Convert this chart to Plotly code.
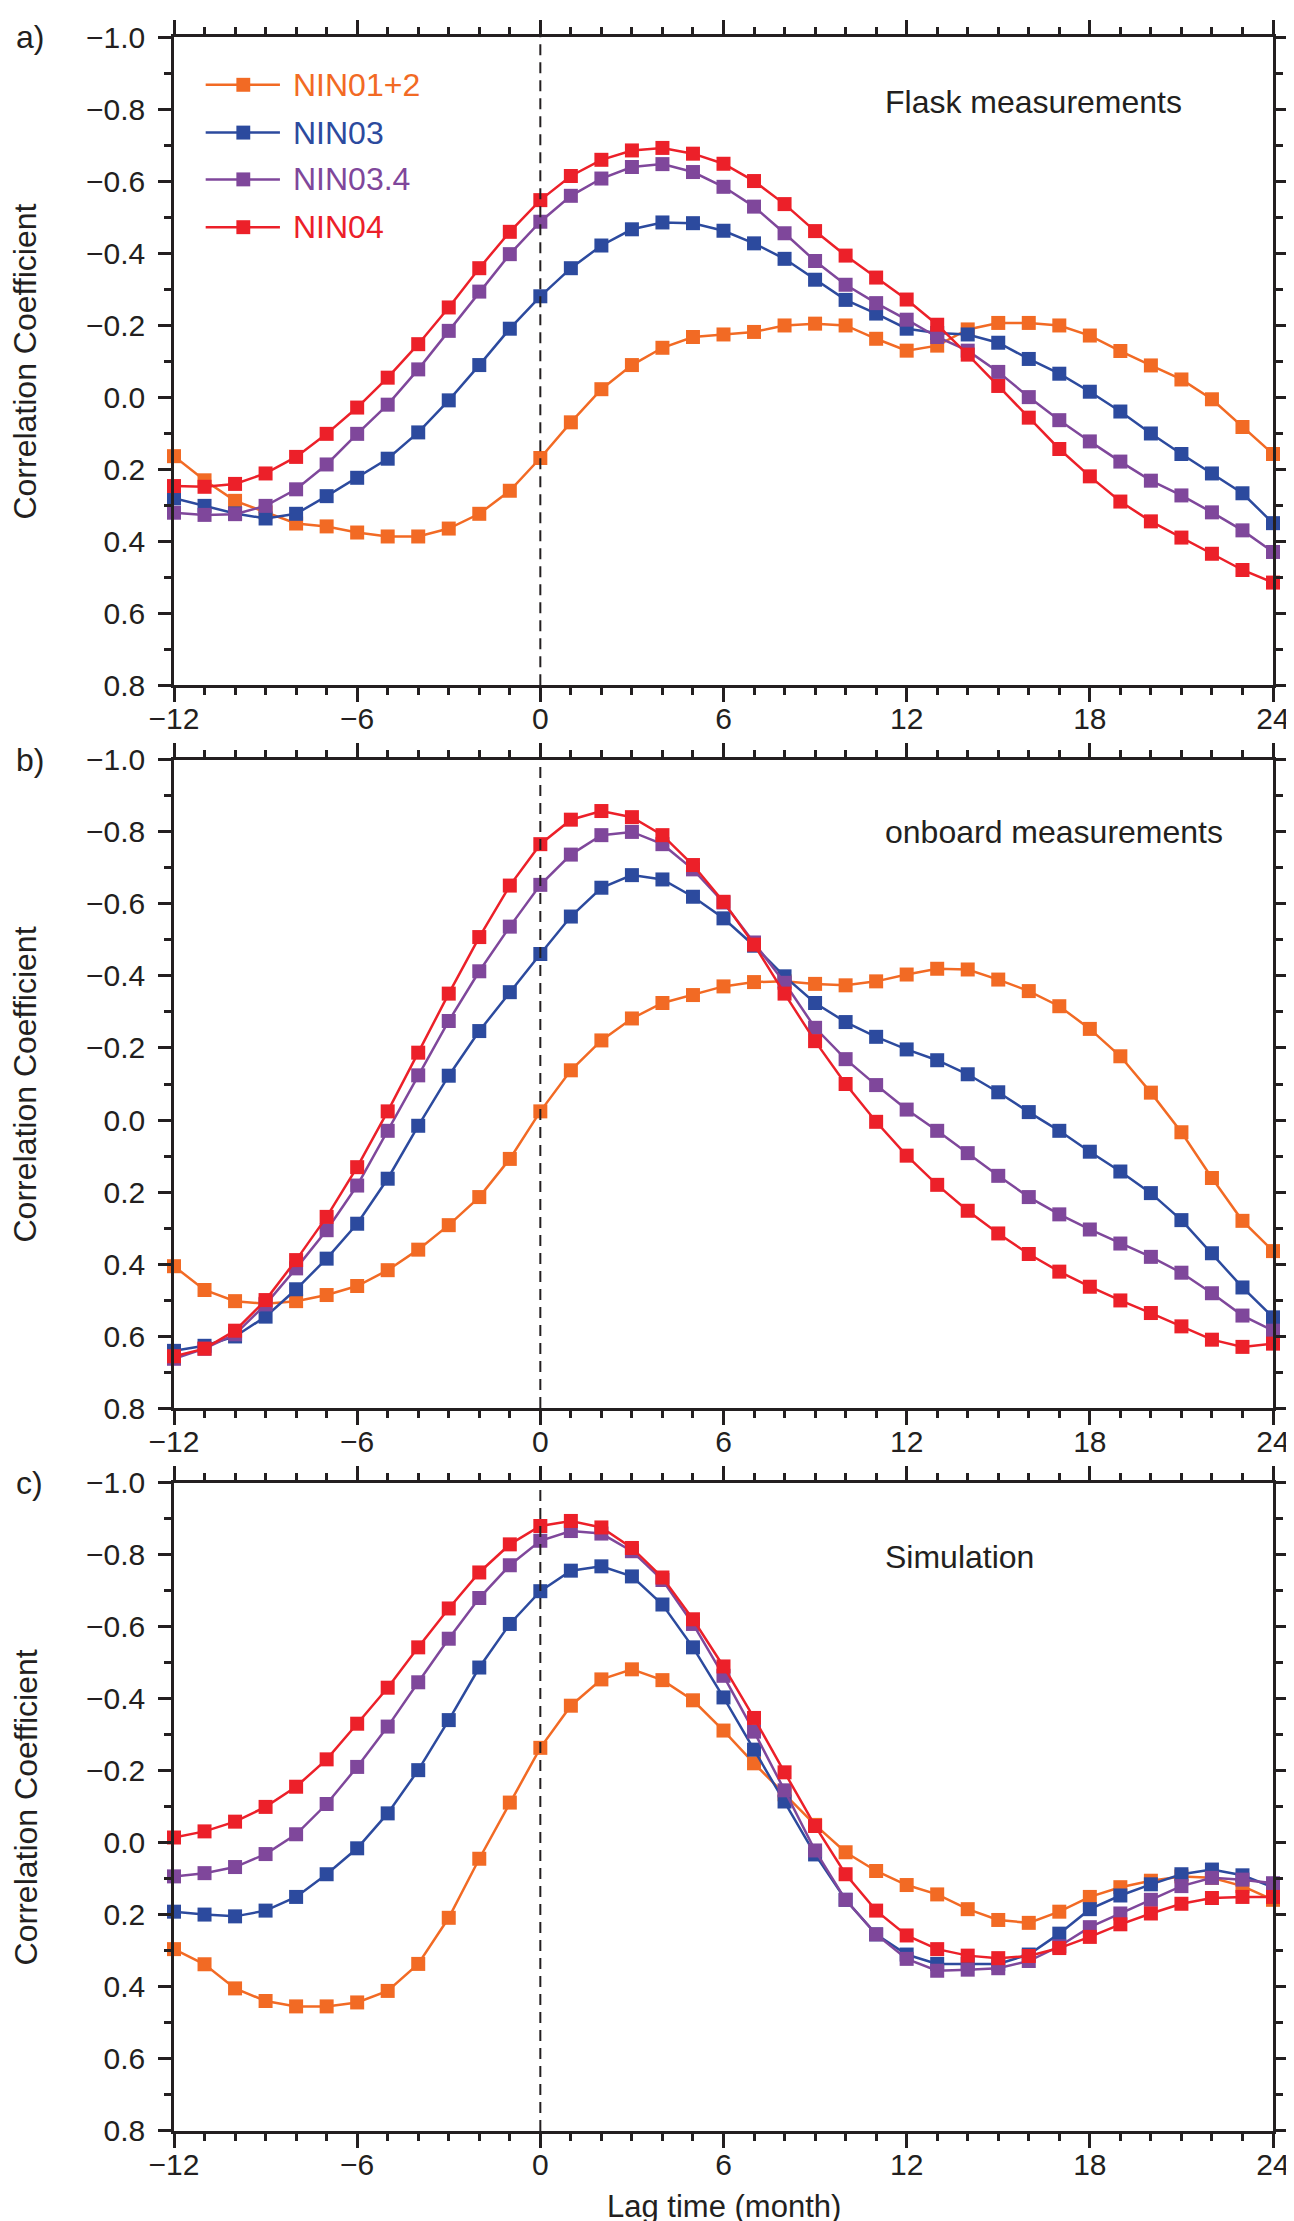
import plotly.graph_objects as go
from plotly.subplots import make_subplots

# lag in months, one value per marker
lag = list(range(-12, 25))

series_names = ["NIN01+2", "NIN03", "NIN03.4", "NIN04"]
series_colors = ["#F26A24", "#2C4A9E", "#7F479B", "#EC2029"]
panel_labels = ["a)", "b)", "c)"]
panel_titles = ["Flask measurements", "onboard measurements", "Simulation"]

### a) flask measurements
flask_nino12 = [0.164, 0.231, 0.288, 0.320, 0.351, 0.359, 0.376, 0.387, 0.387, 0.365, 0.324, 0.260,
                0.169, 0.070, -0.022, -0.089, -0.137, -0.167, -0.174, -0.181, -0.199, -0.204, -0.199, -0.162,
                -0.129, -0.143, -0.188, -0.206, -0.206, -0.199, -0.171, -0.128, -0.088, -0.049, 0.006, 0.083, 0.158]
flask_nino3 = [0.281, 0.302, 0.323, 0.337, 0.324, 0.275, 0.224, 0.171, 0.098, 0.009, -0.089, -0.190,
               -0.280, -0.358, -0.421, -0.466, -0.485, -0.483, -0.462, -0.427, -0.384, -0.326, -0.270, -0.232,
               -0.190, -0.178, -0.174, -0.151, -0.106, -0.065, -0.015, 0.040, 0.101, 0.158, 0.212, 0.267, 0.350]
flask_nino34 = [0.321, 0.327, 0.325, 0.302, 0.256, 0.187, 0.102, 0.021, -0.077, -0.184, -0.293, -0.397,
                -0.487, -0.559, -0.607, -0.639, -0.647, -0.625, -0.584, -0.529, -0.455, -0.378, -0.312, -0.261,
                -0.215, -0.167, -0.129, -0.070, 0.000, 0.064, 0.123, 0.179, 0.232, 0.273, 0.320, 0.370, 0.430]
flask_nino4 = [0.247, 0.249, 0.241, 0.212, 0.166, 0.102, 0.029, -0.054, -0.147, -0.249, -0.358, -0.459,
               -0.547, -0.614, -0.659, -0.685, -0.692, -0.676, -0.648, -0.600, -0.536, -0.461, -0.393, -0.332,
               -0.271, -0.201, -0.118, -0.031, 0.057, 0.144, 0.220, 0.290, 0.345, 0.390, 0.435, 0.480, 0.515]

### b) onboard measurements
onboard_nino12 = [0.406, 0.472, 0.503, 0.510, 0.503, 0.486, 0.461, 0.417, 0.360, 0.292, 0.214, 0.108,
                  -0.024, -0.138, -0.221, -0.282, -0.325, -0.347, -0.371, -0.383, -0.385, -0.378, -0.374, -0.385,
                  -0.404, -0.420, -0.418, -0.390, -0.358, -0.316, -0.253, -0.177, -0.076, 0.034, 0.161, 0.280, 0.364]
onboard_nino3 = [0.641, 0.627, 0.601, 0.546, 0.470, 0.385, 0.288, 0.163, 0.016, -0.123, -0.247, -0.355,
                 -0.461, -0.565, -0.645, -0.680, -0.668, -0.620, -0.560, -0.484, -0.399, -0.325, -0.272, -0.231,
                 -0.196, -0.166, -0.127, -0.077, -0.022, 0.030, 0.088, 0.143, 0.203, 0.278, 0.370, 0.465, 0.548]
onboard_nino34 = [0.663, 0.635, 0.595, 0.512, 0.412, 0.306, 0.182, 0.030, -0.124, -0.275, -0.413, -0.537,
                  -0.653, -0.737, -0.791, -0.800, -0.766, -0.696, -0.604, -0.493, -0.381, -0.256, -0.169, -0.097,
                  -0.029, 0.030, 0.092, 0.155, 0.214, 0.262, 0.304, 0.343, 0.380, 0.424, 0.481, 0.543, 0.585]
onboard_nino4 = [0.656, 0.635, 0.585, 0.500, 0.389, 0.269, 0.131, -0.024, -0.187, -0.351, -0.508, -0.651,
                 -0.766, -0.834, -0.858, -0.841, -0.791, -0.708, -0.606, -0.487, -0.351, -0.219, -0.100, 0.005,
                 0.099, 0.180, 0.252, 0.315, 0.372, 0.421, 0.463, 0.501, 0.536, 0.573, 0.610, 0.630, 0.621]

### c) simulation
sim_nino12 = [0.295, 0.337, 0.404, 0.439, 0.454, 0.454, 0.443, 0.411, 0.336, 0.208, 0.044, -0.112,
              -0.264, -0.381, -0.454, -0.482, -0.452, -0.396, -0.312, -0.221, -0.135, -0.050, 0.026, 0.078,
              0.117, 0.143, 0.184, 0.214, 0.222, 0.191, 0.150, 0.123, 0.105, 0.093, 0.097, 0.120, 0.158]
sim_nino3 = [0.191, 0.199, 0.204, 0.188, 0.150, 0.087, 0.015, -0.082, -0.202, -0.341, -0.487, -0.608,
             -0.699, -0.756, -0.768, -0.740, -0.662, -0.543, -0.404, -0.259, -0.115, 0.032, 0.158, 0.254,
             0.310, 0.336, 0.336, 0.336, 0.310, 0.252, 0.184, 0.146, 0.115, 0.087, 0.074, 0.090, 0.123]
sim_nino34 = [0.093, 0.084, 0.067, 0.031, -0.024, -0.108, -0.211, -0.323, -0.446, -0.567, -0.680, -0.771,
              -0.839, -0.866, -0.859, -0.810, -0.730, -0.608, -0.464, -0.309, -0.146, 0.021, 0.158, 0.254,
              0.322, 0.355, 0.352, 0.348, 0.328, 0.287, 0.234, 0.196, 0.158, 0.120, 0.097, 0.102, 0.112]
sim_nino4 = [-0.015, -0.032, -0.059, -0.100, -0.156, -0.232, -0.331, -0.431, -0.543, -0.651, -0.751, -0.829,
             -0.880, -0.894, -0.876, -0.819, -0.737, -0.621, -0.490, -0.347, -0.196, -0.047, 0.087, 0.188,
             0.257, 0.295, 0.313, 0.320, 0.314, 0.292, 0.261, 0.226, 0.196, 0.169, 0.153, 0.150, 0.150]

panels = [
    [flask_nino12, flask_nino3, flask_nino34, flask_nino4],
    [onboard_nino12, onboard_nino3, onboard_nino34, onboard_nino4],
    [sim_nino12, sim_nino3, sim_nino34, sim_nino4],
]

### page geometry (pixels)
W, H = 1294, 2221
L, R, T, B = 166, 18, 20, 98
PANEL_H = 651
panel_tops = [20, 746, 1472]
title_offsets = [65, 72, 75]
FONT = "Liberation Sans, Arial, Helvetica, sans-serif"
INK = "#231f20"


def px_x(px):
    return (px - L) / (W - L - R)


def px_y(py):
    return (H - B - py) / (H - T - B)


fig = make_subplots(rows=3, cols=1, shared_xaxes=False, vertical_spacing=0.03)

for i, series in enumerate(panels):
    for name, color, vals in zip(series_names, series_colors, series):
        fig.add_trace(go.Scatter(x=lag, y=vals, mode="lines+markers", name=name,
                                 line=dict(color=color, width=2.5),
                                 marker=dict(symbol="square", size=14, color=color, line=dict(width=0)),
                                 cliponaxis=False, showlegend=False), row=i + 1, col=1)
    fig.add_vline(x=0, line=dict(color=INK, width=2, dash="11px,7px"), row=i + 1, col=1)

axis_style = dict(showline=True, linewidth=2.5, linecolor=INK, mirror="allticks",
                  ticks="outside", tickwidth=2.5, tickcolor=INK, showgrid=False, zeroline=False,
                  tickfont=dict(family=FONT, size=30, color=INK))

for i, top in enumerate(panel_tops):
    fig.update_xaxes(range=[-12, 24], tick0=-12, dtick=6, ticklen=14, ticklabelstandoff=-9,
                     minor=dict(dtick=1, ticklen=7, tickwidth=2.5, tickcolor=INK, ticks="outside"),
                     **axis_style, row=i + 1, col=1)
    fig.update_yaxes(range=[0.8, -1.0], tick0=-1.0, dtick=0.2, tickformat=".1f", ticklen=13,
                     ticklabelstandoff=7, domain=[px_y(top + PANEL_H), px_y(top)],
                     minor=dict(dtick=0.1, ticklen=7, tickwidth=2.5, tickcolor=INK, ticks="outside"),
                     **axis_style, row=i + 1, col=1)

    fig.add_annotation(text=panel_labels[i], xref="paper", yref="paper", x=px_x(4), y=px_y(top),
                       xanchor="left", yanchor="middle", showarrow=False,
                       font=dict(family=FONT, size=32, color=INK))
    fig.add_annotation(text="Correlation Coefficient", xref="paper", yref="paper",
                       x=px_x(16), y=px_y(top + PANEL_H / 2), textangle=-90,
                       xanchor="center", yanchor="middle", showarrow=False,
                       font=dict(family=FONT, size=32, color=INK))
    fig.add_annotation(text=panel_titles[i], xref="paper", yref="paper",
                       x=px_x(882), y=px_y(top + title_offsets[i]),
                       xanchor="left", yanchor="middle", showarrow=False,
                       font=dict(family=FONT, size=32, color=INK))

fig.add_annotation(text="Lag time (month)", xref="paper", yref="paper", x=0.5, y=px_y(2199),
                   xanchor="center", yanchor="middle", showarrow=False,
                   font=dict(family=FONT, size=31, color=INK))

### hand-made legend in panel a
legend_rows = [68, 116, 163, 211]
for name, color, row_y in zip(series_names, series_colors, legend_rows):
    fig.add_shape(type="line", xref="paper", yref="paper", x0=px_x(198), x1=px_x(273),
                  y0=px_y(row_y), y1=px_y(row_y), line=dict(color=color, width=2.5))
    fig.add_shape(type="rect", xref="paper", yref="paper", x0=px_x(229), x1=px_x(243),
                  y0=px_y(row_y + 7), y1=px_y(row_y - 7), fillcolor=color, line=dict(width=0))
    fig.add_annotation(text=name, xref="paper", yref="paper", x=px_x(284), y=px_y(row_y),
                       xanchor="left", yanchor="middle", showarrow=False,
                       font=dict(family=FONT, size=32, color=color))

fig.update_layout(width=W, height=H, margin=dict(l=L, r=R, t=T, b=B),
                  plot_bgcolor="white", paper_bgcolor="white", showlegend=False,
                  font=dict(family=FONT, color=INK))

fig.write_html("out.html")
